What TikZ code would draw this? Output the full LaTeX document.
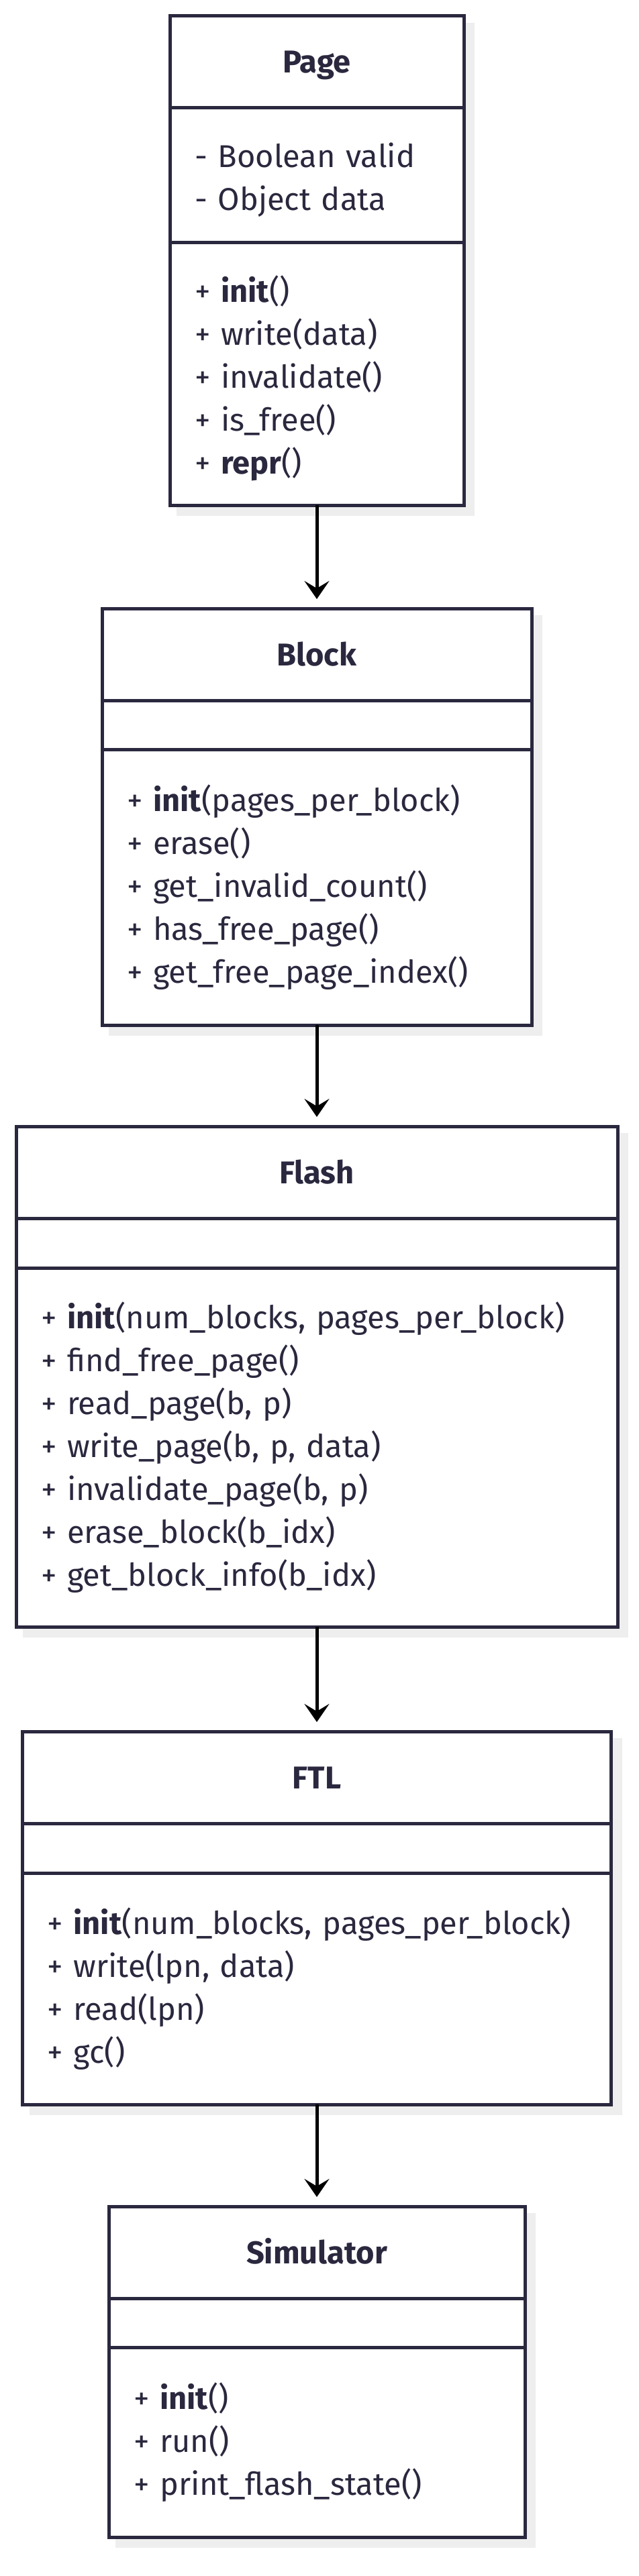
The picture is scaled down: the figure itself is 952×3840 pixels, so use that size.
\documentclass[tikz,border=0pt]{standalone}
\usepackage{fontspec}
\setmainfont{Fira Sans}
\definecolor{umlnavy}{RGB}{42,40,62}
\definecolor{shadowgrey}{RGB}{238,238,238}
\usetikzlibrary{arrows.meta,positioning,backgrounds}

\begin{document}
\begin{tikzpicture}[x=1pt, y=-1pt,
    classbox/.style={draw=umlnavy, line width=5pt, fill=white, outer sep=0pt, inner xsep=37pt, inner ysep=0pt, text=umlnavy, font=\fontsize{47}{64}\selectfont},
    classname/.style={classbox, align=center, text height=33pt, text depth=0pt, minimum height=137pt, font=\fontsize{47}{64}\selectfont\bfseries},
    members/.style={classbox, align=left},
    assoc/.style={draw=black, line width=5pt, -{Stealth[length=27pt, width=37pt, inset=11pt]}, shorten >=14pt}
]
    \useasboundingbox (0,0) rectangle (952,3840);

    \node[classname, text width=364pt, anchor=north] (page) at (472,24) {Page};
    \node[members, text width=364pt, minimum height=200pt, text depth=60pt, below=0pt of page] (pageAttr) {- Boolean valid\\- Object data};
    \node[members, text width=364pt, minimum height=392pt, text depth=252pt, below=0pt of pageAttr] (pageOps) {+ \textbf{init}()\\+ write(data)\\+ invalidate()\\+ is\_free()\\+ \textbf{repr}()};

    \node[classname, text width=566pt, anchor=north] (block) at (472,907) {Block};
    \node[members, text width=566pt, minimum height=73pt, below=0pt of block] (blockAttr) {};
    \node[members, text width=566pt, minimum height=411pt, below=0pt of blockAttr] (blockOps) {+ \textbf{init}(pages\_per\_block)\\+ erase()\\+ get\_invalid\_count()\\+ has\_free\_page()\\+ get\_free\_page\_index()};

    \node[classname, text width=822pt, anchor=north] (flash) at (472,1679) {Flash};
    \node[members, text width=822pt, minimum height=74pt, below=0pt of flash] (flashAttr) {};
    \node[members, text width=822pt, minimum height=535pt, below=0pt of flashAttr] (flashOps) {+ \textbf{init}(num\_blocks, pages\_per\_block)\\+ find\_free\_page()\\+ read\_page(b, p)\\+ write\_page(b, p, data)\\+ invalidate\_page(b, p)\\+ erase\_block(b\_idx)\\+ get\_block\_info(b\_idx)};

    \node[classname, text width=803pt, anchor=north] (ftl) at (472,2581) {FTL};
    \node[members, text width=803pt, minimum height=74pt, below=0pt of ftl] (ftlAttr) {};
    \node[members, text width=803pt, minimum height=345pt, below=0pt of ftlAttr] (ftlOps) {+ \textbf{init}(num\_blocks, pages\_per\_block)\\+ write(lpn, data)\\+ read(lpn)\\+ gc()};

    \node[classname, text width=546pt, anchor=north] (sim) at (472,3289) {Simulator};
    \node[members, text width=546pt, minimum height=73pt, below=0pt of sim] (simAttr) {};
    \node[members, text width=546pt, minimum height=283pt, below=0pt of simAttr] (simOps) {+ \textbf{init}()\\+ run()\\+ print\_flash\_state()};

    \begin{scope}[on background layer]
        \foreach \hd/\ft in {page/pageOps, block/blockOps, flash/flashOps, ftl/ftlOps, sim/simOps}
            \fill[shadowgrey] ([shift={(10pt,-10pt)}]\hd.north west) rectangle ([shift={(16pt,-16pt)}]\ft.south east);
    \end{scope}

    \draw[assoc] (pageOps) -- (block);
    \draw[assoc] (blockOps) -- (flash);
    \draw[assoc] (flashOps) -- (ftl);
    \draw[assoc] (ftlOps) -- (sim);
\end{tikzpicture}
\end{document}
